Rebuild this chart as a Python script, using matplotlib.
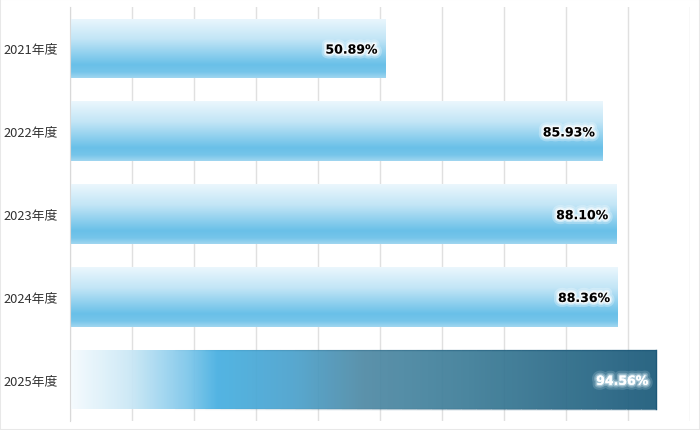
import matplotlib
matplotlib.use('Agg')
import matplotlib.pyplot as plt
import numpy as np
from matplotlib.colors import LinearSegmentedColormap, to_rgba
from matplotlib.patches import Rectangle
from matplotlib.collections import LineCollection
import matplotlib.patheffects as pe

plt.rcParams['font.family'] = ['DejaVu Sans', 'Noto Sans CJK JP']

years = ['2021年度', '2022年度', '2023年度', '2024年度', '2025年度']
rates = [50.89, 85.93, 88.10, 88.36, 94.56]
highlight = '2025年度'

# vertical gradient for normal bars (top -> bottom)
cmap_v = LinearSegmentedColormap.from_list('v', [
    (0.0, '#ebf7fd'), (0.35, '#c2e5f6'), (0.78, '#69c0e8'), (0.9, '#76c5ea'), (1.0, '#a0d6f0')])
# horizontal gradient for the highlighted bar (left -> right)
cmap_h = LinearSegmentedColormap.from_list('h', [
    (0.0, '#f5fbfe'), (0.1, '#cbe8f6'), (0.2, '#7cc6ea'), (0.25, '#46afe1'),
    (0.38, '#4ba2cd'), (0.5, '#4f8aa5'), (0.68, '#3d7d98'), (1.0, '#1b5a7a')])


def glow(color, alpha):
    return [pe.withStroke(linewidth=7, foreground=color, alpha=alpha * 0.35),
            pe.withStroke(linewidth=4, foreground=color, alpha=alpha * 0.6),
            pe.withStroke(linewidth=2, foreground=color, alpha=alpha)]


fig = plt.figure(figsize=(7, 4.31), dpi=100)
ax = fig.add_axes([70 / 700, 9 / 431, 620 / 700, 414 / 431])
fig.patches.append(Rectangle((0, 0), 1, 1, transform=fig.transFigure, fill=False,
                             edgecolor='#e8e8e8', linewidth=1.5))

bar_h = 0.72
ypos = np.arange(len(years))
for y, name, val in zip(ypos, years, rates):
    y0, y1 = y - bar_h / 2, y + bar_h / 2
    rect = Rectangle((0, y0), val, bar_h, fill=False, edgecolor='none', zorder=3)
    ax.add_patch(rect)
    if name == highlight:
        grad = np.linspace(0, 1, 256).reshape(1, -1)
        im = ax.imshow(grad, cmap=cmap_h, aspect='auto', extent=(0, val, y1, y0),
                       zorder=2, interpolation='bilinear', alpha=0.93)
        # fading border on top and bottom, solid on the right
        xs = np.linspace(0, val, 40)
        segs = [[(xs[i], yy), (xs[i + 1], yy)] for yy in (y0, y1) for i in range(len(xs) - 1)]
        fade = np.clip((xs[:-1] / val - 0.15) / 0.85, 0, 1) * 0.75
        cols = [to_rgba('#1d5878', a) for _ in (y0, y1) for a in fade]
        ax.add_collection(LineCollection(segs, colors=cols, linewidths=1, zorder=3))
        ax.plot([val, val], [y0, y1], color='#1d5878', linewidth=1, zorder=3)
        txt_color, effects = 'white', glow('#cfe6f0', 0.55)
    else:
        grad = np.linspace(0, 1, 256).reshape(-1, 1)
        im = ax.imshow(grad, cmap=cmap_v, aspect='auto', extent=(0, val, y1, y0),
                       zorder=2, interpolation='bilinear')
        txt_color, effects = 'black', glow('white', 0.75)
    im.set_clip_path(rect)
    ax.text(val - 1.3, y + 0.02, f'{val:.2f}%', ha='right', va='center', fontsize=9,
            fontweight='bold', color=txt_color, zorder=4, path_effects=effects)

ax.set_xlim(0, 100)
ax.set_ylim(len(years) - 0.5, -0.5)
ax.set_yticks(ypos)
ax.set_yticklabels(years, fontsize=9.3, color='#333333', family=['Noto Sans CJK JP'])
ax.set_xticks(np.arange(0, 101, 10))
ax.tick_params(axis='x', length=0, labelbottom=False)
ax.tick_params(axis='y', length=0, pad=8.6)
ax.grid(axis='x', color='#e0e0e0', linewidth=1)
ax.set_axisbelow(True)
for s in ['top', 'right', 'bottom']:
    ax.spines[s].set_visible(False)
ax.spines['left'].set_color('#d9d9d9')

fig.savefig('out.png', dpi=100)
